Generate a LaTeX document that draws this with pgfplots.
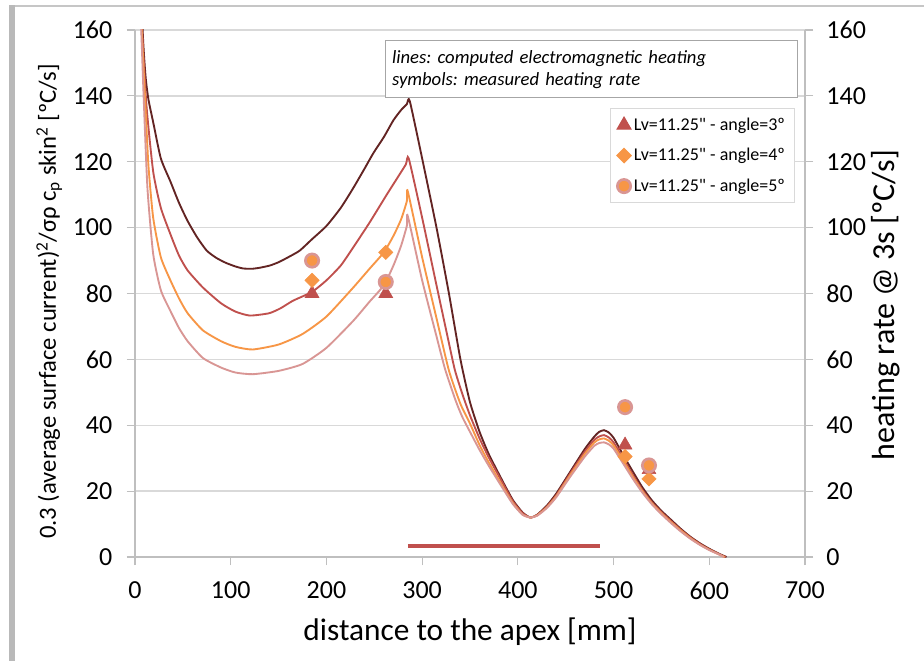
\documentclass[border=0pt]{standalone}
\usepackage{pgfplots}
\pgfplotsset{compat=1.18}
\usepackage{fontspec}
\setmainfont{Carlito}[Ligatures=TeXOff]
\definecolor{cBrown}{HTML}{632423}
\definecolor{cRed}{HTML}{C0504D}
\definecolor{cOrange}{HTML}{F79646}
\definecolor{cPink}{HTML}{D99694}
\definecolor{cGrid}{HTML}{D9D9D9}
\definecolor{cAxis}{HTML}{BFBFBF}
\begin{document}
\frenchspacing
\begin{tikzpicture}
\path[use as bounding box] (-101.25pt,-78pt) rectangle (591.75pt,417.75pt);
\fill[white] (-101.25pt,-78pt) rectangle (591.75pt,417.75pt);
\fill[gray!55] (-94.5pt,-78pt) rectangle (-90pt,414pt);
\draw[gray!45, line width=1.5pt] (-90pt,413pt) -- (591.75pt,413pt);
\begin{axis}[
  scale only axis, width=502.5pt, height=395.25pt,
  xmin=0, xmax=700, ymin=0, ymax=160,
  xtick={0,100,...,700}, ytick={0,20,...,160},
  axis x line*=bottom, axis y line*=left,
  axis line style={cAxis, line width=0.8pt},
  ymajorgrids, grid style={cGrid, line width=1pt},
  tick style={cAxis, line width=0.8pt}, tick align=outside, major tick length=6pt,
  ticklabel style={font=\fontsize{19.5}{22}\selectfont},
  xticklabel style={yshift=-9pt},
  yticklabel style={xshift=-7.5pt},
  /pgf/number format/assume math mode=true,
  xlabel={distance to the apex [mm]},
  ylabel={0.3 (average surface current)\textsuperscript{2}/σρ c\textsubscript{p} skin\textsuperscript{2} [ºC/s]},
  xlabel style={font=\fontsize{23.5}{26}\selectfont, at={(axis description cs:0.5,-0.1423)}, anchor=center},
  ylabel style={font=\fontsize{18.5}{22}\selectfont, at={(axis description cs:-0.128,0.485)}, anchor=center},
  legend style={at={(0.985,0.852)}, anchor=north east, draw=cGrid, line width=0.8pt,
    font=\fontsize{13.5}{16}\selectfont, row sep=8pt, inner sep=5pt, cells={anchor=west}},
  curve/.style={line width=1.4pt, smooth, tension=0.35, forget plot},
]
\addplot[cBrown, curve] coordinates {
(4,200)(8,160)(11,146)(14,139)(19,132)(27,121)(37,114)(46,107.5)(55,102)(65,97)(75,93)(85,90.8)(95,89.3)(105,88.2)(113,87.6)(122,87.5)(130,87.8)(141,88.5)(150,89.5)(160,91)(172,93)(185,96.5)(200,100.5)(215,106)(228,112)(240,118)(249,122.6)(260,127.5)(270,132.6)(278,135.7)(284,137.5)(287,138.5)(300,121)(315,100)(328,80)(340,60)(350,47)(360,38)(370,31)(385,22.5)(395,17.2)(405,13.5)(413,12)(420,12.8)(430,15.5)(440,19.2)(455,26)(470,32.8)(480,36.6)(485,38)(490,38.5)(495,37.8)(500,36.2)(510,31)(520,26)(530,21.2)(540,17.2)(550,14)(560,11.3)(570,8.6)(580,6.2)(590,4.2)(600,2.5)(610,1.0)(618,0)};
\addplot[cRed, curve] coordinates {
(4,190)(7.5,160)(12,137)(19,117)(27,106)(37,98)(46,91.5)(55,87)(71,81.8)(90,77)(105,74.5)(120,73.3)(140,74)(152,75.5)(165,77.8)(185,80.5)(200,84)(215,88.5)(228,94)(245,101.5)(263,110)(275,115.5)(283,119.2)(286,121)(300,103)(315,82.5)(325,69)(334,57)(342,49.5)(350,43)(360,36)(370,30)(385,22)(395,16.8)(405,13.3)(413,12)(420,12.7)(430,15.2)(440,18.7)(455,25.5)(470,32)(480,35.6)(485,36.6)(490,37)(495,36.3)(500,34.8)(510,29.9)(520,25)(530,20.4)(540,16.6)(550,13.6)(560,10.9)(570,8.3)(580,6)(590,4)(600,2.3)(610,0.9)(617,0)};
\addplot[cOrange, curve] coordinates {
(4,180)(7,160)(10.4,140)(14,119)(19,103)(27,91)(37,84)(46,78.5)(55,74)(71,68.8)(90,65.5)(105,63.8)(123,63)(150,64.5)(175,67.7)(200,73)(228,81.8)(245,87.5)(260,92.5)(270,97.5)(278,102.5)(284,108)(285,111)(300,91)(315,72.5)(328,56.6)(340,46.5)(350,40.5)(360,34)(370,28.5)(385,21)(395,16.3)(405,12.9)(413,12)(420,12.6)(430,15)(440,18.4)(455,25)(470,31.3)(480,34.8)(485,35.7)(490,36)(495,35.3)(500,33.9)(510,29.2)(520,24.4)(530,20)(540,16.3)(550,13.3)(560,10.6)(570,8.1)(580,5.8)(590,3.8)(600,2.2)(610,0.8)(616,0)};
\addplot[cPink, curve] coordinates {
(4,175)(6.5,160)(9,140)(13,112)(19,92)(27,81)(37,74.7)(46,69.5)(55,65.5)(71,60.4)(90,57.5)(105,56)(123,55.5)(150,56.5)(175,58.6)(200,63.5)(228,71.7)(245,77.5)(260,82.5)(270,88.5)(278,94.5)(284,100.5)(285,103.5)(300,84)(315,67)(324,57)(335,47.5)(342,42.5)(350,38)(360,32.5)(370,27.5)(385,20.5)(395,16)(405,12.8)(413,12)(420,12.5)(430,14.8)(440,18.1)(455,24.5)(470,30.5)(480,33.8)(485,34.6)(490,34.8)(495,34.2)(500,32.9)(510,28.4)(520,23.8)(530,19.6)(540,16)(550,13)(560,10.3)(570,7.8)(580,5.6)(590,3.7)(600,2.1)(610,0.8)(615,0)};
\addplot[cRed, line width=3pt, forget plot] coordinates {(285,3.2)(486,3.2)};
\addplot[only marks, mark=triangle*, mark size=6pt, color=cRed] coordinates {(185,80)(262,80)(512,34)(537,26.5)};
\addlegendentry{Lv=11.25" - angle=3º}
\addplot[only marks, mark=square*, mark size=3.8pt, mark options={rotate=45}, color=cOrange] coordinates {(185,84)(262,92.5)(512,30.5)(537,23.7)};
\addlegendentry{Lv=11.25" - angle=4º}
\addplot[only marks, mark=*, mark size=5pt, mark options={fill=cOrange, draw=cPink, line width=2pt}] coordinates {(185,90)(262,83.5)(512,45.5)(537,27.8)};
\addlegendentry{Lv=11.25" - angle=5º}
\node[draw=gray!70, line width=0.9pt, fill=white, anchor=north west, inner xsep=5pt, minimum width=309pt, minimum height=43pt, text width=299pt, align=left, font=\fontsize{14}{16.5}\selectfont\itshape] at (axis cs:261,157) {lines: computed electromagnetic heating\\symbols: measured heating rate};
\end{axis}
\begin{axis}[
  scale only axis, width=502.5pt, height=395.25pt,
  xmin=0, xmax=700, ymin=0, ymax=160,
  ytick={0,20,...,160},
  axis x line=none, axis y line*=right,
  axis line style={cAxis, line width=0.8pt},
  tick style={cAxis, line width=0.8pt}, tick align=outside, major tick length=6pt,
  ticklabel style={font=\fontsize{19.5}{22}\selectfont},
  yticklabel style={xshift=6.5pt},
  /pgf/number format/assume math mode=true,
  ylabel={heating rate @ 3s [ºC/s]},
  ylabel style={font=\fontsize{24}{26}\selectfont, at={(axis description cs:1.121,0.478)}, anchor=center},
]
\end{axis}
\end{tikzpicture}
\end{document}
